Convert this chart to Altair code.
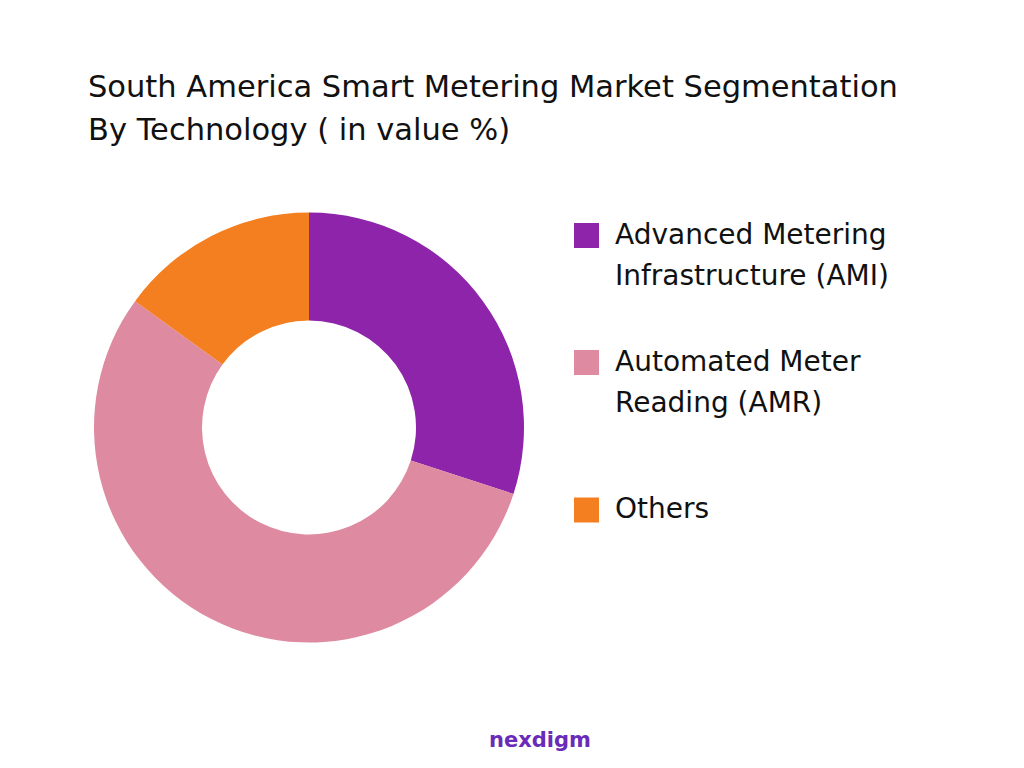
import altair as alt
import pandas as pd

categories = [
    "Advanced Metering Infrastructure (AMI)",
    "Automated Meter Reading (AMR)",
    "Others",
]
values = [30, 55, 15]
legend_labels = ["Advanced Metering|Infrastructure (AMI)", "Automated Meter|Reading (AMR)", "Others"]
legend_nlines = [2, 2, 1]
colors = ["#8E24AA", "#DE8AA0", "#F47F20"]
title_lines = ["South America Smart Metering Market Segmentation", "By Technology ( in value %)"]

FONT = "DejaVu Sans"

df = pd.DataFrame({
    "category": categories,
    "value": values,
    "order": list(range(len(categories))),
    "label": legend_labels,
    "nlines": legend_nlines,
})

color = alt.Color("category:N", scale=alt.Scale(domain=categories, range=colors), legend=None)

base = alt.Chart(df)

arc = base.mark_arc(innerRadius=107, outerRadius=215).encode(
    theta=alt.Theta("value:Q", stack=True),
    order=alt.Order("order:Q"),
    color=color,
    x=alt.value(301),
    y=alt.value(419.5),
)

yscale = alt.Y("category:N", scale=alt.Scale(domain=categories, type="point", range=[248, 502], padding=0), axis=None)

squares = base.mark_square(size=625, opacity=1).encode(
    x=alt.value(578.5),
    y=yscale,
    yOffset=alt.YOffset("off:Q", scale=None),
    color=color,
).transform_calculate(off="-(datum.nlines - 1) * 20.5")

labels = base.mark_text(
    align="left", baseline="middle", fontSize=28, lineHeight=41, font=FONT, color="#111111"
).encode(
    x=alt.value(607),
    y=yscale,
    yOffset=alt.YOffset("off:Q", scale=None),
    text="lines:N",
).transform_calculate(lines="split(datum.label, '|')", off="-(datum.nlines - 1) * 20.5")

title = alt.Chart(pd.DataFrame({"t": [0]})).mark_text(
    align="left", baseline="middle", fontSize=30.5, lineHeight=43, font=FONT, color="#111111"
).encode(
    x=alt.value(80),
    y=alt.value(80),
    text=alt.value(title_lines),
)

logo = alt.Chart(pd.DataFrame({"t": [0]})).mark_text(
    align="center", baseline="middle", fontSize=21, fontWeight="bold", font=FONT, color="#6A2BB8"
).encode(
    x=alt.value(532),
    y=alt.value(733),
    text=alt.value("nexdigm"),
)

chart = alt.layer(arc, squares, labels, title, logo).properties(
    width=1008, height=752, autosize=alt.AutoSizeParams(type="none"), padding=0
).configure_view(stroke=None)

chart.save("out.html", embed_options={"renderer": "svg", "actions": False})
